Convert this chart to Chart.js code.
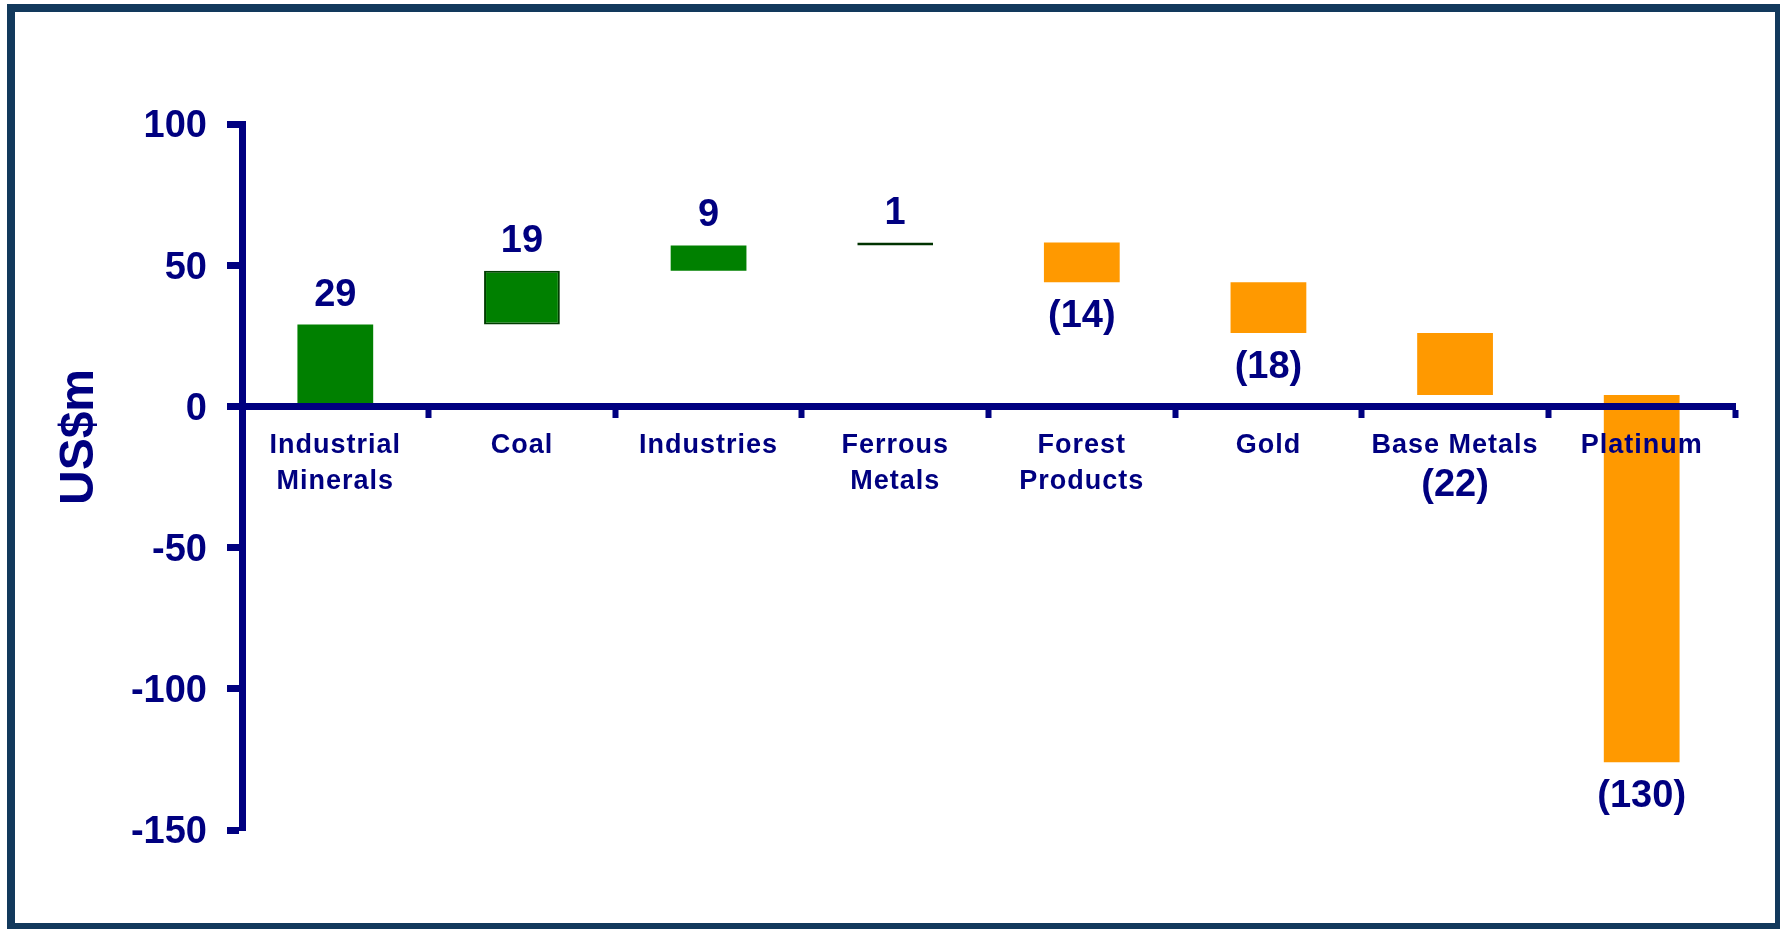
<!DOCTYPE html>
<html>
<head>
<meta charset="utf-8">
<script src="https://cdn.jsdelivr.net/npm/chart.js@4"></script>
<style>
  html, body { margin:0; padding:0; background:#fff; overflow:hidden; }
  #wrap { position:relative; width:1780px; height:929px; }
  #frame { position:absolute; left:7px; top:4px; width:1776px; height:927px;
           box-sizing:border-box; border:8px solid #12395c; pointer-events:none; }
</style>
</head>
<body>
<div id="wrap">
  <canvas id="wf" width="1780" height="929"></canvas>
  <div id="frame"></div>
</div>
<script>
/* waterfall of US$m changes by business unit */
const categories = [['Industrial', 'Minerals'], 'Coal', 'Industries', ['Ferrous', 'Metals'],
                    ['Forest', 'Products'], 'Gold', 'Base Metals', 'Platinum'];
const changes    = [29, 19, 9, 1, -14, -18, -22, -130];
const yTicks     = [100, 50, 0, -50, -100, -150];
const yTitle     = 'US$m';
// labels that sit under the category name instead of under the bar
const labelUnderAxis = ['Base Metals'];

const NAVY = '#000080', GREEN = '#008000', ORANGE = '#FF9900';
const FONT = "'Liberation Sans', Arial, sans-serif";

// running totals -> floating bars
let run = 0;
const floating = changes.map(d => { const s = run; run += d; return [s, run]; });

const fill   = changes.map((d, i) => i === 3 ? '#003300' : d >= 0 ? GREEN : ORANGE);
const edge   = changes.map((d, i) => i === 1 ? '#003d00' : i === 3 ? '#003300' : (d >= 0 ? GREEN : ORANGE));
const edgeW  = changes.map((d, i) => i === 1 ? 2 : i === 3 ? 3 : 0);

const fmt = v => v < 0 ? '(' + Math.abs(v) + ')' : String(v);

const extras = {
  id: 'extras',
  afterDatasetsDraw(chart) {
    // x labels are drawn after this (z:1), a little tracking like the original
    chart.ctx.letterSpacing = '1px';
  },
  afterDraw(chart) {
    const ctx = chart.ctx;
    ctx.save();
    ctx.letterSpacing = '0px';
    ctx.fillStyle = NAVY;
    ctx.font = 'bold 38px ' + FONT;
    ctx.textAlign = 'center';
    ctx.textBaseline = 'alphabetic';
    const zero = chart.scales.y.getPixelForValue(0);
    chart.getDatasetMeta(0).data.forEach((bar, i) => {
      const top = Math.min(bar.y, bar.base), bot = Math.max(bar.y, bar.base);
      const name = Array.isArray(categories[i]) ? categories[i].join(' ') : categories[i];
      let y;
      if (labelUnderAxis.includes(name)) y = zero + 90;
      else if (changes[i] >= 0) y = top - 19;
      else y = bot + 45;
      ctx.fillText(fmt(changes[i]), bar.x, y);
    });
    // axis title
    ctx.font = 'bold 48px ' + FONT;
    ctx.textBaseline = 'middle';
    ctx.translate(80, 437);
    ctx.rotate(-Math.PI / 2);
    ctx.fillText(yTitle, 0, 0);
    ctx.restore();
  }
};

new Chart(document.getElementById('wf').getContext('2d'), {
  type: 'bar',
  data: {
    labels: categories,
    datasets: [{
      data: floating,
      backgroundColor: fill,
      borderColor: edge,
      borderWidth: edgeW,
      borderSkipped: false,
      categoryPercentage: 1,
      barPercentage: 0.406,
    }]
  },
  options: {
    responsive: false,
    animation: false,
    devicePixelRatio: 1,
    layout: { padding: { top: 124, right: 45, bottom: 99, left: 0 } },
    plugins: { legend: { display: false }, tooltip: { enabled: false } },
    scales: {
      x: {
        position: { y: 0 },
        offset: true,
        grid: { offset: true, drawOnChartArea: false, tickLength: 8, tickWidth: 6, tickColor: NAVY, z: 1 },
        border: { display: true, color: NAVY, width: 7, z: 1 },
        ticks: { color: NAVY, font: { family: FONT, size: 27, weight: 'bold', lineHeight: '36px' },
                 padding: 13, maxRotation: 0, autoSkip: false, z: 1 },
      },
      y: {
        min: -150, max: 100,
        afterBuildTicks: s => { s.ticks = yTicks.map(v => ({ value: v })); },
        afterFit: s => { s.width = 242; },
        grid: { drawOnChartArea: false, tickLength: 15, tickWidth: 7, tickColor: NAVY },
        border: { display: true, color: NAVY, width: 7 },
        // empty first line nudges the digits down a few px, as in the original
        ticks: { color: NAVY, font: { family: FONT, size: 38, weight: 'bold', lineHeight: '6px' },
                 padding: 20, callback: v => ['', String(v)] },
      }
    }
  },
  plugins: [extras]
});
</script>
</body>
</html>
